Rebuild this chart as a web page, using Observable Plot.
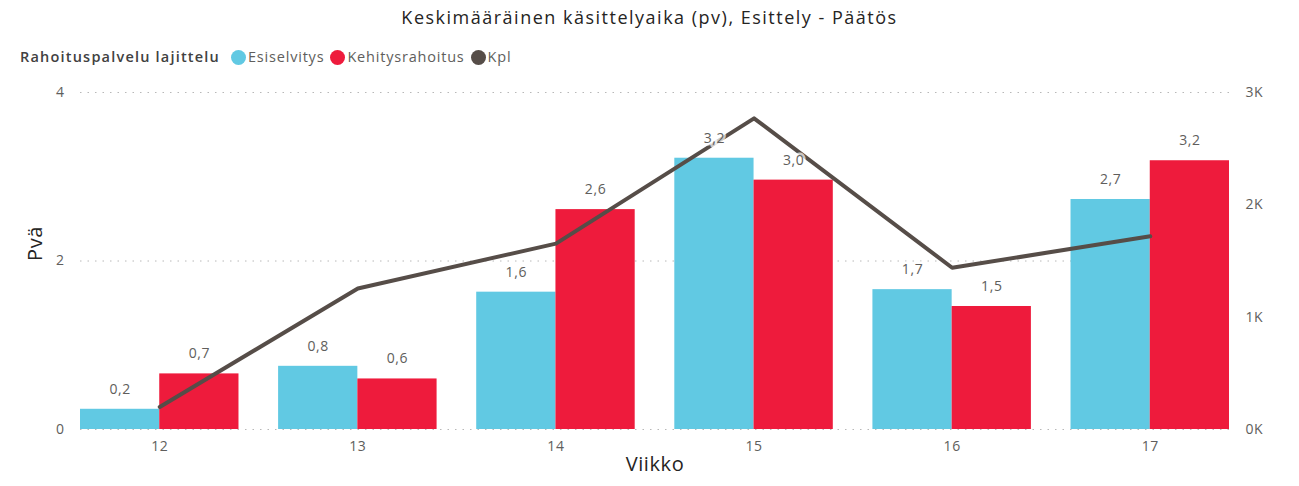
<!DOCTYPE html>
<html><head><meta charset="utf-8">
<script src="https://cdn.jsdelivr.net/npm/d3@7"></script>
<script src="https://cdn.jsdelivr.net/npm/@observablehq/plot@0.6"></script>
<style>
body{margin:0;background:#fff;font-family:"Open Sans",sans-serif;}
#wrap{position:relative;width:1299px;height:486px;}
#title{position:absolute;top:4px;left:0;width:1299px;text-align:center;font-size:18px;letter-spacing:1.5px;color:#252423;line-height:26px;}
#legend{position:absolute;top:47px;left:20px;font-size:14.5px;letter-spacing:0.8px;color:#605E5C;display:flex;align-items:center;white-space:nowrap;line-height:20px;}
#legend b{color:#414141;font-weight:600;margin-right:11px;letter-spacing:1.2px;}
.it{display:flex;align-items:center;margin-right:6px;}
.dot{width:15px;height:15px;border-radius:50%;margin-right:2px;}
#chart{position:absolute;top:76px;left:0;}
#chart svg text{letter-spacing:0.6px;}
</style></head><body>
<div id="wrap">
<div id="title">Keskimääräinen käsittelyaika (pv), Esittely - Päätös</div>
<div id="legend"></div>
<div id="chart"></div>
</div>
<script>
const weeks = [12, 13, 14, 15, 16, 17];
const esiselvitys = [0.24, 0.75, 1.63, 3.22, 1.66, 2.73];
const kehitysrahoitus = [0.66, 0.60, 2.61, 2.96, 1.46, 3.19];
const kpl = [200, 1255, 1655, 2770, 1440, 1720];
const seriesNames = ["Esiselvitys", "Kehitysrahoitus", "Kpl"];
const colors = ["#61C9E3", "#EE1B3C", "#564D48"];
const leftTicks = [0, 2, 4];
const rightTicks = [0, 1000, 2000, 3000];

const ratio = 3000 / 4; // right axis max / left axis max

const legend = document.getElementById("legend");
legend.innerHTML = "<b>Rahoituspalvelu lajittelu</b>" + seriesNames.map((s, i) =>
  `<span class="it"><span class="dot" style="background:${colors[i]}"></span>${s}</span>`).join("");

const bars = [];
weeks.forEach((w, i) => {
  bars.push({week: w, x1: w - 0.4, x2: w, value: esiselvitys[i], s: seriesNames[0]});
  bars.push({week: w, x1: w, x2: w + 0.4, value: kehitysrahoitus[i], s: seriesNames[1]});
});
const line = weeks.map((w, i) => ({week: w, v: kpl[i] / ratio}));
const fmt = v => v.toFixed(1).replace(".", ",");

const chart = Plot.plot({
  width: 1299,
  height: 410,
  marginLeft: 80,
  marginRight: 70,
  marginTop: 16,
  marginBottom: 57,
  style: {fontFamily: "'Open Sans', sans-serif", fontSize: "13px", color: "#605E5C", background: "#fff"},
  x: {domain: [11.6, 17.4]},
  y: {domain: [0, 4]},
  color: {domain: seriesNames, range: colors},
  marks: [
    Plot.gridY(leftTicks, {stroke: "#b8b8b8", strokeOpacity: 1, strokeDasharray: "1.5,6"}),
    Plot.rectY(bars, {x1: "x1", x2: "x2", y: "value", fill: "s"}),
    Plot.line(line, {x: "week", y: "v", stroke: colors[2], strokeWidth: 4}),
    Plot.text(bars, {x: d => (d.x1 + d.x2) / 2, y: "value", text: d => fmt(d.value), dy: -20,
      fill: "#605E5C", stroke: "white", strokeOpacity: 0.7, strokeWidth: 5, fontSize: 14}),
    Plot.axisX(weeks, {tickSize: 0, tickPadding: 12, tickFormat: d => String(d), fontSize: 14, label: null}),
    Plot.text(["Viikko"], {frameAnchor: "bottom", dy: 41, fontSize: 20, fill: "#252423"}),
    Plot.axisY(leftTicks, {anchor: "left", tickSize: 0, tickPadding: 16, fontSize: 14, label: null, tickFormat: d => String(d)}),
    Plot.text(["Pvä"], {frameAnchor: "left", dx: -45, rotate: -90, fontSize: 20, fill: "#252423"}),
    Plot.axisY(rightTicks.map(d => d / ratio), {anchor: "right", tickSize: 0, tickPadding: 16, fontSize: 14, label: null,
      tickFormat: d => Math.round(d * ratio / 1000) + "K"})
  ]
});
document.getElementById("chart").appendChild(chart);
</script>
</body></html>
